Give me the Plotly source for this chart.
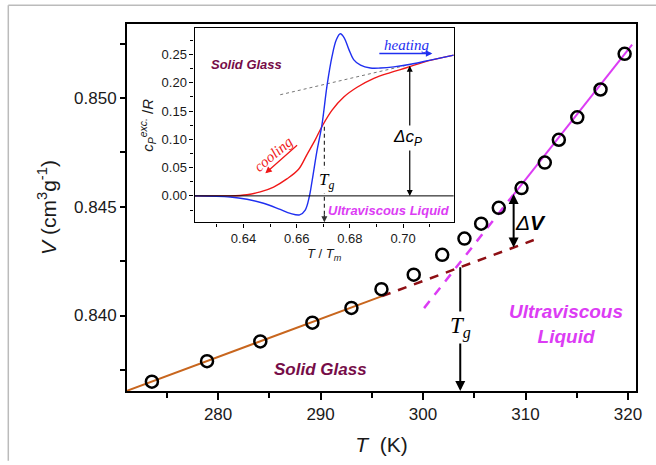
import plotly.graph_objects as go

# Specific volume vs temperature
T_data = [273.54, 278.92, 284.12, 289.20, 293.01, 295.94, 299.09, 301.87, 304.04,
          305.67, 307.39, 309.61, 311.88, 313.25, 315.05, 317.32, 319.67]
V_data = [0.83696, 0.83790, 0.83881, 0.83967, 0.84035, 0.84121, 0.84188, 0.84279, 0.84354,
          0.84422, 0.84495, 0.84586, 0.84703, 0.84808, 0.84911, 0.85039, 0.85203]

# Linear fits: glass (solid part + extrapolation) and liquid (extrapolation + solid part)
glass_T = [271.1, 296.0, 310.8]
glass_V = [0.83654, 0.84089, 0.84347]
liquid_T = [300.1, 308.8, 320.4]
liquid_V = [0.84034, 0.84554, 0.85245]

Tg_main = 303.63
Tg_V = 0.84229
dV_T = 308.84
dV_top, dV_bottom = 0.84565, 0.84313

# Inset: excess heat capacity vs reduced temperature
heat_x = [0.6216, 0.635, 0.6413, 0.6475, 0.6538, 0.6576, 0.6611, 0.6632, 0.6647, 0.6658,
          0.6676, 0.6695, 0.6714, 0.6733, 0.6749, 0.6764, 0.6779, 0.6796, 0.6814, 0.684,
          0.6877, 0.6915, 0.6965, 0.7028, 0.7103, 0.7191]
heat_y = [0.0, -0.002, -0.006, -0.013, -0.024, -0.031, -0.0336, -0.025, -0.002, 0.027,
          0.079, 0.126, 0.195, 0.247, 0.276, 0.2865, 0.279, 0.259, 0.241, 0.231,
          0.226, 0.226, 0.228, 0.2326, 0.240, 0.2488]
cool_x = [0.6216, 0.635, 0.6413, 0.6463, 0.6513, 0.6563, 0.6607, 0.6639, 0.667, 0.6695,
          0.6733, 0.6777, 0.6827, 0.689, 0.6952, 0.7015, 0.7078, 0.7191]
cool_y = [0.0, 0.0, 0.002, 0.007, 0.0156, 0.030, 0.047, 0.0735, 0.0995, 0.1227,
          0.1516, 0.1748, 0.192, 0.2078, 0.218, 0.2269, 0.2366, 0.2488]
glass_cp_x = [0.6538, 0.7028]
glass_cp_y = [0.1788, 0.2326]
Tg_inset = 0.6704
dcp_x = 0.7025
dcp_top = 0.2326

SANS = "Arial, Liberation Sans, sans-serif"
SERIF = "Times New Roman, Liberation Serif, serif"
MAROON = "#760d48"
MAGENTA = "#dc3cf4"
ORANGE = "#c8661e"
DARKRED = "#8e0f14"
BLUE = "#1f2ff0"
RED = "#f01818"

fig = go.Figure()

# main fits
fig.add_trace(go.Scatter(x=glass_T[:2], y=glass_V[:2], mode="lines",
                         line=dict(color=ORANGE, width=2), hoverinfo="skip"))
fig.add_trace(go.Scatter(x=glass_T[1:], y=glass_V[1:], mode="lines",
                         line=dict(color=DARKRED, width=2.5, dash="9px,8px"), hoverinfo="skip"))
fig.add_trace(go.Scatter(x=liquid_T[:2], y=liquid_V[:2], mode="lines",
                         line=dict(color=MAGENTA, width=2.5, dash="9px,8px"), hoverinfo="skip"))
fig.add_trace(go.Scatter(x=liquid_T[1:], y=liquid_V[1:], mode="lines",
                         line=dict(color=MAGENTA, width=2), hoverinfo="skip"))
# data points
fig.add_trace(go.Scatter(x=T_data, y=V_data, mode="markers",
                         marker=dict(symbol="circle-open", size=12, color="black",
                                     line=dict(width=2.5, color="black"))))

# inset curves
fig.add_trace(go.Scatter(x=glass_cp_x, y=glass_cp_y, xaxis="x2", yaxis="y2", mode="lines",
                         line=dict(color="#777777", width=1, dash="3px,3px"), hoverinfo="skip"))
fig.add_trace(go.Scatter(x=cool_x, y=cool_y, xaxis="x2", yaxis="y2", mode="lines",
                         line=dict(color=RED, width=1.4, shape="spline"), hoverinfo="skip"))
fig.add_trace(go.Scatter(x=heat_x, y=heat_y, xaxis="x2", yaxis="y2", mode="lines",
                         line=dict(color=BLUE, width=1.4, shape="spline"), hoverinfo="skip"))

shapes = [
    # inset background
    dict(type="rect", xref="x2 domain", yref="y2 domain", x0=0, x1=1, y0=0, y1=1,
         fillcolor="white", line=dict(width=0), layer="below"),
    # inset zero line
    dict(type="line", xref="x2 domain", yref="y2", x0=0, x1=1, y0=0, y1=0,
         line=dict(color="black", width=1)),
    # inset Tg dashed drop line
    dict(type="line", xref="x2", yref="y2", x0=Tg_inset, x1=Tg_inset, y0=0.122, y1=-0.040,
         line=dict(color="#333333", width=1.2, dash="4px,3px")),
    # outer page border
    dict(type="line", xref="paper", yref="paper", x0=-0.2332, x1=-0.2332, y0=-0.19, y1=1.0509,
         line=dict(color="#bbbbbb", width=1.5)),
    dict(type="line", xref="paper", yref="paper", x0=-0.2332, x1=1.05, y0=1.0509, y1=1.0509,
         line=dict(color="#bbbbbb", width=1.5)),
]

ann = []
# Tg arrow in main plot
ann.append(dict(x=Tg_main, y=0.836531, ax=Tg_main, ay=Tg_V, xref="x", yref="y",
                axref="x", ayref="y", showarrow=True, arrowhead=2, arrowsize=1,
                arrowwidth=2, arrowcolor="black", text=""))
ann.append(dict(x=Tg_main, y=0.83945, xref="x", yref="y", showarrow=False,
                text="<i>T</i><sub><i>g</i></sub>", bgcolor="white",
                font=dict(family=SERIF, size=23, color="black")))
# Delta V
ann.append(dict(x=dV_T, y=dV_bottom, ax=dV_T, ay=dV_top, xref="x", yref="y",
                axref="x", ayref="y", showarrow=True, arrowhead=2, arrowside="end+start",
                arrowsize=1, arrowwidth=2, arrowcolor="black", text=""))
ann.append(dict(x=310.5, y=0.84428, xref="x", yref="y", showarrow=False,
                text="<i>Δ</i><b><i>V</i></b>", xanchor="center",
                font=dict(family=SANS, size=21, color="black")))
ann.append(dict(x=290.02, y=0.83750, xref="x", yref="y", showarrow=False,
                text="<b><i>Solid Glass</i></b>",
                font=dict(family=SANS, size=17, color=MAROON)))
ann.append(dict(x=313.9, y=0.83959, xref="x", yref="y", showarrow=False,
                text="<b><i>Ultraviscous<br>Liquid</i></b>",
                font=dict(family=SANS, size=19, color=MAGENTA)))

# inset annotations
ann.append(dict(x=Tg_inset, y=-0.0465, ax=0, ay=-9, xref="x2", yref="y2", showarrow=True,
                arrowhead=2, arrowsize=1, arrowwidth=1.2, arrowcolor="#333333", text=""))
ann.append(dict(x=Tg_inset + 0.0008, y=0.027, xref="x2", yref="y2", showarrow=False,
                text="<i>T</i><sub><i>g</i></sub>", bgcolor="white",
                font=dict(family=SERIF, size=17, color="black")))
ann.append(dict(x=dcp_x, y=0.0, ax=dcp_x, ay=dcp_top, xref="x2", yref="y2",
                axref="x2", ayref="y2", showarrow=True, arrowhead=2, arrowside="end+start",
                arrowsize=1, arrowwidth=1.2, arrowcolor="black", text=""))
ann.append(dict(x=0.7015, y=0.1024, xref="x2", yref="y2", showarrow=False,
                text="<i>Δc</i><sub><i>P</i></sub>", bgcolor="white",
                font=dict(family=SANS, size=17, color="black")))
ann.append(dict(x=0.6413, y=0.2314, xref="x2", yref="y2", showarrow=False,
                text="<b><i>Solid Glass</i></b>",
                font=dict(family=SANS, size=13, color=MAROON)))
ann.append(dict(x=0.6948, y=-0.0266, xref="x2", yref="y2", showarrow=False,
                text="<b><i>Ultraviscous Liquid</i></b>",
                font=dict(family=SANS, size=13, color=MAGENTA)))
ann.append(dict(x=0.711, y=0.2517, ax=0.6905, ay=0.2517, xref="x2", yref="y2",
                axref="x2", ayref="y2", showarrow=True, arrowhead=2, arrowsize=1,
                arrowwidth=1.3, arrowcolor=BLUE, text=""))
ann.append(dict(x=0.7012, y=0.2665, xref="x2", yref="y2", showarrow=False,
                text="<i>heating</i>", font=dict(family=SERIF, size=15, color=BLUE)))
ann.append(dict(x=0.6482, y=0.040, ax=0.6607, ay=0.092, xref="x2", yref="y2",
                axref="x2", ayref="y2", showarrow=True, arrowhead=2, arrowsize=1,
                arrowwidth=1.3, arrowcolor=RED, text=""))
ann.append(dict(x=0.6513, y=0.0734, xref="x2", yref="y2", showarrow=False, textangle=-40,
                text="<i>cooling</i>", font=dict(family=SERIF, size=15, color=RED)))

fig.update_layout(
    width=656, height=465,
    margin=dict(l=127, r=20, t=24, b=68),
    paper_bgcolor="white", plot_bgcolor="white",
    showlegend=False,
    font=dict(family=SANS, color="#1a1a1a"),
    shapes=shapes,
    annotations=ann,
    xaxis=dict(range=[271.11, 320.78], showgrid=False, zeroline=False,
               showline=True, linecolor="black", linewidth=2, mirror=True,
               ticks="outside", ticklen=7, tickwidth=1.5, tickcolor="black",
               tick0=280, dtick=10, tickfont=dict(size=17, family=SANS),
               minor=dict(dtick=5, ticks="outside", ticklen=5, tickwidth=1.5, tickcolor="black"),
               title=dict(text="<i>T</i>  (K)", font=dict(size=21, family=SANS), standoff=14)),
    yaxis=dict(range=[0.836531, 0.853401], showgrid=False, zeroline=False,
               showline=True, linecolor="black", linewidth=2, mirror=True,
               ticks="outside", ticklen=5, tickwidth=1.5, tickcolor="black",
               tick0=0.84, dtick=0.005, tickformat=".3f", tickfont=dict(size=17, family=SANS),
               minor=dict(dtick=0.0025, ticks="outside", ticklen=5, tickwidth=1.5, tickcolor="black"),
               title=dict(text="<i>V</i> (cm<sup>3</sup>g<sup>-1</sup>)",
                          font=dict(size=21, family=SANS), standoff=12)),
    xaxis2=dict(domain=[0.1328, 0.6417], anchor="y2", range=[0.6216, 0.7190],
                showgrid=False, zeroline=False, showline=True, linecolor="black",
                linewidth=1.2, mirror=True, ticks="outside", ticklen=4, tickcolor="black",
                tick0=0.64, dtick=0.02, tickformat=".2f", tickfont=dict(size=13, family=SANS),
                minor=dict(dtick=0.01, ticks="outside", ticklen=3, tickcolor="black"),
                title=dict(text="<i>T</i> / <i>T</i><sub><i>m</i></sub>",
                           font=dict(size=13, family=SANS), standoff=2)),
    yaxis2=dict(domain=[0.4592, 0.9885], anchor="x2", range=[-0.047, 0.2964],
                showgrid=False, zeroline=False, showline=True, linecolor="black",
                linewidth=1.2, mirror=True, ticks="outside", ticklen=4, tickcolor="black",
                tick0=0, dtick=0.05, tickformat=".2f", tickfont=dict(size=13, family=SANS),
                minor=dict(dtick=0.025, ticks="outside", ticklen=3, tickcolor="black"),
                title=dict(text="<i>c</i><sub><i>P</i></sub><sup><i>exc.</i></sup> /<i>R</i>",
                           font=dict(size=15, family=SANS), standoff=4)),
)

fig.write_html("out.html")
